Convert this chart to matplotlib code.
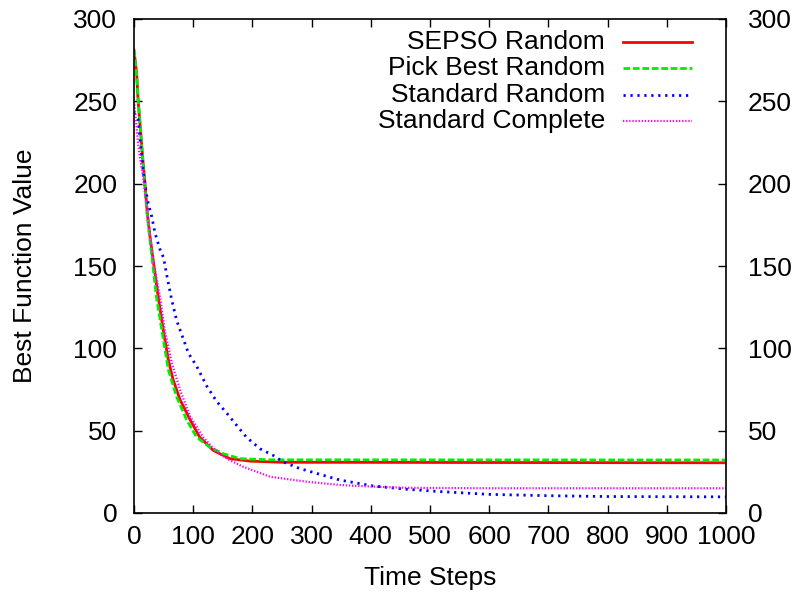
import matplotlib
matplotlib.use("Agg")
import matplotlib.pyplot as plt
from matplotlib.lines import Line2D
import matplotlib.transforms as mtransforms

plt.rcParams['font.family'] = ['Liberation Sans', 'DejaVu Sans']

sepso_x = [0, 4.5, 7, 10, 14.6, 18.6, 22.5, 27, 33, 41, 49.5, 58, 66, 78, 95, 111, 134, 162, 196, 250, 1000]
sepso_y = [281, 267, 250, 237, 216, 200, 182, 168, 152, 131, 111, 93, 81, 68.6, 56.5, 46, 38, 33, 31.5, 30.8, 30.5]

pick_x = [0, 4, 7, 10, 14, 18, 22, 26, 38, 47, 58, 72, 89, 106, 128, 151, 179, 230, 1000]
pick_y = [281, 268, 252, 238, 218, 200, 182, 169, 131, 111, 87, 70.6, 56.5, 46, 40, 36, 33, 32.3, 32.2]

std_rand_x = [0, 7, 10, 13, 16, 21, 24, 30, 35.5, 44, 50, 55, 64, 72, 78, 92, 106, 123, 140, 157, 173, 190,
              213, 235, 252, 280, 309, 348, 404, 461, 517, 601, 700, 800, 1000]
std_rand_y = [243, 239, 228, 216, 206, 194, 188, 180, 170, 160, 155, 145, 129, 117, 111, 97, 89, 77, 67.6, 60.5, 53.4, 46,
              39, 35, 31, 27, 24, 20, 16.4, 14.4, 13, 11.3, 10.5, 10, 9.8]

std_comp_x = [0, 4.5, 7, 10, 15, 20, 27, 33, 44, 52, 64, 78, 95, 117, 140, 162, 185, 230, 292, 348, 404, 461, 600, 1000]
std_comp_y = [250, 234, 224, 216, 205, 190, 168, 152, 131, 111, 91, 74.7, 58.5, 46, 37, 32, 28, 22, 19, 17, 16, 15.3, 15, 15]

labels = ["SEPSO Random", "Pick Best Random", "Standard Random", "Standard Complete"]
xticks = list(range(0, 1001, 100))
yticks = list(range(0, 301, 50))

FS = 19
fig = plt.figure(figsize=(7.94, 5.94), dpi=100)
ax = fig.add_axes([134/794, 1-513/594, (726-134)/794, (513-19)/594])

styles = [
    dict(color='#ff0000', linestyle='-', linewidth=2.0),
    dict(color='#00ee00', linestyle=(0, (2.4, 1.0)), linewidth=2.0),
    dict(color='#0000ff', linestyle=(0, (0.8, 1.7)), linewidth=2.0),
    dict(color='#ff00ff', linestyle=(0, (0.6, 0.8)), linewidth=1.6),
]
data = [(sepso_x, sepso_y), (pick_x, pick_y), (std_rand_x, std_rand_y), (std_comp_x, std_comp_y)]
for (xs, ys), st in zip(data, styles):
    ax.plot(xs, ys, **st)

ax.set_xlim(0, 1000)
ax.set_ylim(0, 300)
ax.set_xticks(xticks)
ax.set_yticks(yticks)
ax.tick_params(direction='in', length=6, width=1, labelsize=FS, top=True, right=True, labelright=True)
ax.tick_params(axis='x', pad=9)
ax.tick_params(axis='y', pad=12)
for s in ax.spines.values():
    s.set_linewidth(1.2)
ax.set_xlabel("Time Steps", fontsize=FS)
ax.xaxis.set_label_coords(0.5, (513 - 578) / 494)
ax.xaxis.label.set_va('center')
ax.set_ylabel("Best Function Value", fontsize=FS)
ax.yaxis.set_label_coords((25 - 134) / 592, 0.5)
ax.yaxis.label.set_va('center')

# right tick labels slightly further out
off = mtransforms.ScaledTranslation(5 / 100, 0, fig.dpi_scale_trans)
for t in ax.yaxis.get_major_ticks():
    t.label2.set_transform(t.label2.get_transform() + off)

# legend, gnuplot style: right-aligned labels, samples to the right
row_y = [42, 68, 95, 121]
for lab, st, py in zip(labels, styles, row_y):
    yf = 1 - (py - 19) / (513 - 19)
    ax.text((605 - 134) / 592, yf, lab, transform=ax.transAxes, ha='right', va='center', fontsize=FS)
    ax.add_line(Line2D([(623 - 134) / 592, (692 - 134) / 592], [yf, yf], transform=ax.transAxes, **st))

fig.savefig("out.png", dpi=100)
